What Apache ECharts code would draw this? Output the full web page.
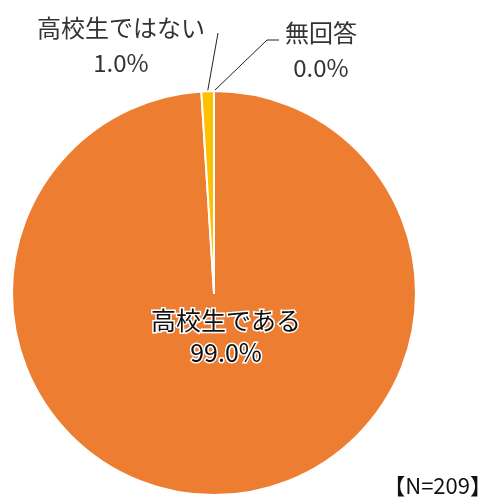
<!DOCTYPE html>
<html>
<head>
<meta charset="utf-8">
<script src="https://cdn.jsdelivr.net/npm/echarts@6/dist/echarts.min.js"></script>
<style>
  html, body { margin: 0; padding: 0; background: #fff; }
  #chart { width: 494px; height: 499px; }
</style>
</head>
<body>
<div id="chart"></div>
<script>
var categories = ['高校生である', '高校生ではない', '無回答'];
var values = [99.0, 1.0, 0.0];
var colors = ['#ED7D31', '#FFC000', '#A5A5A5'];
var sampleNote = '【N=209】';

var chart = echarts.init(document.getElementById('chart'));
var font = '"Noto Sans CJK JP", "Noto Sans", sans-serif';

// label placement (centre of each text block)
var labelPos = [
  { x: 226, y: 336 },
  { x: 121, y: 45 },
  { x: 321, y: 50 }
];

var option = {
  animation: false,
  series: [{
    type: 'pie',
    center: [214, 293],
    radius: 202,
    startAngle: 90,
    clockwise: true,
    itemStyle: { borderColor: '#fff', borderWidth: 2 },
    label: {
      show: true,
      position: 'outside',
      fontFamily: font,
      fontSize: 24,
      lineHeight: 35,
      color: '#333',
      align: 'center',
      overflow: 'none',
      width: 300,
      formatter: function (p) {
        return p.name + '\n' + p.value.toFixed(1) + '%';
      }
    },
    labelLine: { show: true, lineStyle: { color: '#222', width: 1 } },
    labelLayout: function (params) {
      var pos = labelPos[params.dataIndex];
      var res = { x: pos.x, y: pos.y, align: 'center', verticalAlign: 'middle' };
      var pts = params.labelLinePoints;
      if (params.dataIndex === 1 && pts) {
        res.labelLinePoints = [pts[0], [218, 33]];
      } else if (params.dataIndex === 2 && pts) {
        res.labelLinePoints = [pts[0], [267, 40], [279, 40]];
      }
      return res;
    },
    data: categories.map(function (c, i) {
      var item = { name: c, value: values[i], itemStyle: { color: colors[i] } };
      if (i === 0) {
        item.label = {
          position: 'inside',
          color: '#111',
          fontSize: 25,
          lineHeight: 32,
          textBorderColor: '#fff',
          textBorderWidth: 3
        };
        item.labelLine = { show: false };
      }
      return item;
    })
  }],
  graphic: [{
    type: 'text',
    right: 2,
    bottom: 2,
    style: {
      text: sampleNote,
      fontFamily: font,
      fontSize: 22,
      fill: '#111'
    }
  }]
};

chart.setOption(option);
</script>
</body>
</html>
